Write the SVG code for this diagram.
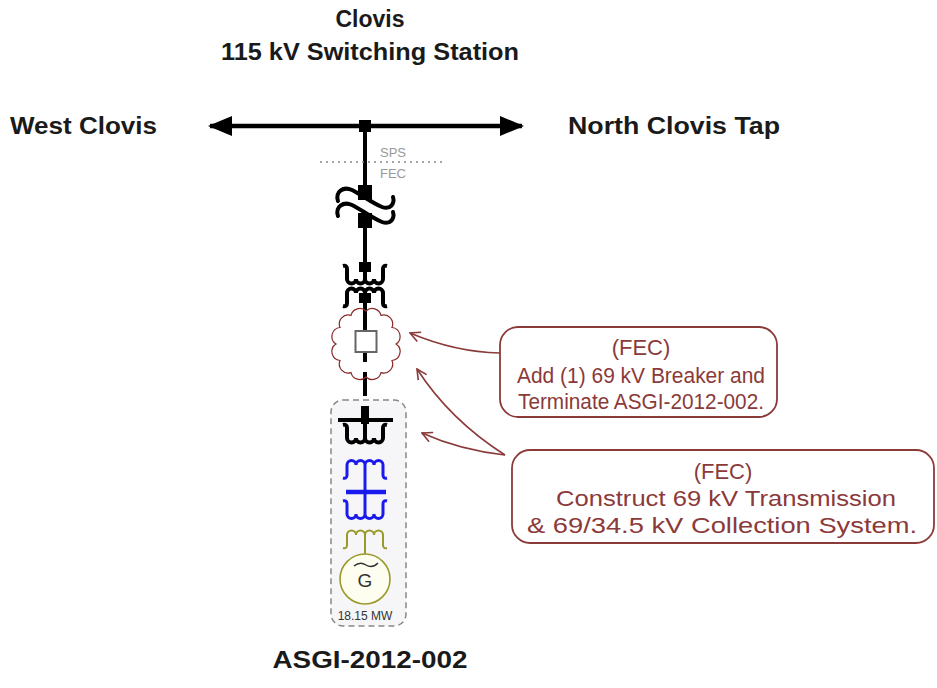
<svg xmlns="http://www.w3.org/2000/svg" width="937" height="688" viewBox="0 0 937 688">
<style>
.t{font-family:"Liberation Sans",Arial,sans-serif;font-weight:bold;font-size:23px;fill:#1a1a1a}
.c{font-family:"Liberation Sans",Arial,sans-serif;font-size:22px;fill:#8b3a3a}
.s{font-family:"Liberation Sans",Arial,sans-serif;font-size:13px;fill:#999}
.box{fill:#fff;stroke:#8b3a3a;stroke-width:1.8}
.arr{fill:none;stroke:#8b3a3a;stroke-width:1.6;marker-end:url(#open)}
.blk{fill:none;stroke:#000;stroke-width:4}
.bl{fill:none;stroke:#1a1aee;stroke-width:3}
.ol{fill:none;stroke:#9a9a2a;stroke-width:2}
</style>
<defs>
<marker id="open" viewBox="0 0 12 12" refX="11" refY="6" markerWidth="12" markerHeight="12" markerUnits="userSpaceOnUse" orient="auto">
<path d="M1,1 L11,6 L1,11" fill="none" stroke="#8b3a3a" stroke-width="1.6"/>
</marker>
<marker id="fill" viewBox="0 0 24 20" refX="22" refY="10" markerWidth="24" markerHeight="20" markerUnits="userSpaceOnUse" orient="auto-start-reverse">
<path d="M0,0 L24,10 L0,20 Z" fill="#000"/>
</marker>
<path id="coil" d="M-22,-13 Q-18,-14 -18,-10 L-18,0 A4.5,4.5 0 0 0 -9,0 A4.5,4.5 0 0 0 0,0 A4.5,4.5 0 0 0 9,0 A4.5,4.5 0 0 0 18,0 L18,-10 Q18,-14 22,-13"/>
</defs>
<rect width="937" height="688" fill="#fff"/>

<g id="titles">
<text class="t" x="370" y="27" text-anchor="middle">Clovis</text>
<text class="t" x="370" y="60" text-anchor="middle" textLength="298" lengthAdjust="spacingAndGlyphs">115 kV Switching Station</text>
</g>
<g id="west-clovis"><text class="t" x="10" y="134" textLength="147" lengthAdjust="spacingAndGlyphs">West Clovis</text></g>
<g id="north-clovis-tap"><text class="t" x="568" y="134" textLength="212" lengthAdjust="spacingAndGlyphs">North Clovis Tap</text></g>

<g id="connectors">
<line x1="210" y1="126" x2="522" y2="126" stroke="#000" stroke-width="4.5" marker-start="url(#fill)" marker-end="url(#fill)"/>
<line x1="365" y1="126" x2="365" y2="185" stroke="#000" stroke-width="4"/>
<line x1="365" y1="228" x2="365" y2="279" stroke="#000" stroke-width="4"/>
<line x1="365" y1="293" x2="365" y2="331" stroke="#000" stroke-width="4"/>
<line x1="365" y1="352" x2="365" y2="362" stroke="#000" stroke-width="4"/>
<line x1="365" y1="372" x2="365" y2="396" stroke="#000" stroke-width="4"/>
<path class="arr" d="M500,353 Q455,352 410,333"/>
<path class="arr" d="M505,455 Q450,420 417,369"/>
<path class="arr" d="M505,455 Q460,450 422,433"/>
</g>

<g id="bus-node"><rect x="359" y="120" width="12" height="12" fill="#000"/></g>

<g id="boundary">
<line x1="320" y1="162" x2="446" y2="162" stroke="#888" stroke-width="1.5" stroke-dasharray="2,4"/>
<text class="s" x="380" y="157">SPS</text>
<text class="s" x="380" y="178">FEC</text>
</g>

<g id="disconnect">
<rect x="358" y="185" width="14" height="15" fill="#000"/>
<rect x="358" y="213" width="14" height="15" fill="#000"/>
<path class="blk" stroke-linecap="round" d="M338,201 C335,192 343,186 352,190 C362,195 372,203 382,207 C390,210 395,204 393,197"/>
<path class="blk" stroke-linecap="round" d="M338,216 C335,207 343,201 352,205 C362,210 372,218 382,222 C390,225 395,219 393,212"/>
</g>

<g id="transformer-115-69">
<rect x="359" y="262" width="12" height="10" fill="#000"/>
<use href="#coil" class="blk" stroke-width="3.5" transform="translate(365,279)"/>
<use href="#coil" class="blk" stroke-width="3.5" transform="translate(365,293) scale(1,-1)"/>
<rect x="359" y="293" width="12" height="10" fill="#000"/>
</g>

<g id="breaker-69kv">
<path fill="none" stroke="#8b2a2a" stroke-width="1.2" d="M396,344 A9,9 0 0 1 391.98,360.5 A9,9 0 0 1 381,372.58 A9,9 0 0 1 366,377 A9,9 0 0 1 351,372.58 A9,9 0 0 1 340.02,360.5 A9,9 0 0 1 336,344 A9,9 0 0 1 340.02,327.5 A9,9 0 0 1 351,315.42 A9,9 0 0 1 366,311 A9,9 0 0 1 381,315.42 A9,9 0 0 1 391.98,327.5 A9,9 0 0 1 396,344 Z"/>
<rect x="355.5" y="331" width="21" height="21" fill="#fff" stroke="#666" stroke-width="2"/>
</g>

<g id="asgi-2012-002">
<rect x="331" y="400" width="75" height="226" rx="12" fill="#f6f6f8" stroke="#888" stroke-width="1.5" stroke-dasharray="6,4"/>
<line x1="338" y1="420" x2="393" y2="420" stroke="#000" stroke-width="4"/>
<rect x="361" y="406" width="8" height="18" fill="#000"/>
<line x1="365" y1="420" x2="365" y2="438" stroke="#000" stroke-width="4"/>
<use href="#coil" class="blk" stroke-width="3.5" transform="translate(365,438)"/>
<line x1="365" y1="465" x2="365" y2="514" stroke="#1a1aee" stroke-width="3"/>
<use href="#coil" class="bl" transform="translate(365,465) scale(1,-1)"/>
<line x1="346" y1="492" x2="386" y2="492" stroke="#1a1aee" stroke-width="4.5"/>
<use href="#coil" class="bl" transform="translate(365,514)"/>
<use href="#coil" class="ol" transform="translate(365,535) scale(1,-1)"/>
<line x1="365" y1="535" x2="365" y2="554" stroke="#9a9a2a" stroke-width="2"/>
<circle cx="365" cy="579" r="25" fill="#fdfdf0" stroke="#9a9a2a" stroke-width="1.6"/>
<path d="M354,566 Q360,561 366,565 T378,563" fill="none" stroke="#333" stroke-width="1.5"/>
<text x="365" y="587" text-anchor="middle" font-family="Liberation Sans,Arial,sans-serif" font-size="19" fill="#333">G</text>
<text x="365" y="620" text-anchor="middle" font-family="Liberation Sans,Arial,sans-serif" font-size="12" fill="#333">18.15 MW</text>
<text class="t" x="370" y="668" text-anchor="middle" textLength="195" lengthAdjust="spacingAndGlyphs">ASGI-2012-002</text>
</g>

<g id="callout-breaker">
<rect class="box" x="500" y="327" width="277" height="90" rx="18"/>
<text class="c" x="641" y="355" text-anchor="middle">(FEC)</text>
<text class="c" x="641" y="383" text-anchor="middle" textLength="248" lengthAdjust="spacingAndGlyphs">Add (1) 69 kV Breaker and</text>
<text class="c" x="641" y="409" text-anchor="middle" textLength="246" lengthAdjust="spacingAndGlyphs">Terminate ASGI-2012-002.</text>
</g>

<g id="callout-transmission">
<rect class="box" x="512" y="450" width="422" height="93" rx="18"/>
<text class="c" x="723" y="479" text-anchor="middle">(FEC)</text>
<text class="c" x="726" y="506" text-anchor="middle" textLength="340" lengthAdjust="spacingAndGlyphs">Construct 69 kV Transmission</text>
<text class="c" x="722" y="533" text-anchor="middle" textLength="390" lengthAdjust="spacingAndGlyphs">&amp; 69/34.5 kV Collection System.</text>
</g>
</svg>
